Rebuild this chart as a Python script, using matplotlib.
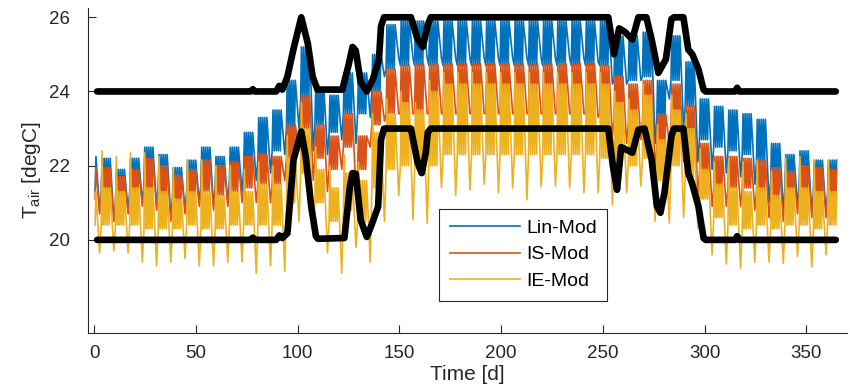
import numpy as np
import matplotlib
matplotlib.use('Agg')
import matplotlib.pyplot as plt

plt.rcParams['font.family'] = ['Liberation Sans', 'DejaVu Sans']
plt.rcParams['mathtext.fontset'] = 'custom'
plt.rcParams['mathtext.rm'] = 'Liberation Sans'

#========= weekly values (one entry per week, week i starts at day 7*i + FIRST_DIP)
FIRST_DIP = -4.3

# Lin-Mod
lin_hi = [22.25, 22.2, 21.9, 22.2, 22.5, 22.3, 21.95, 22.15, 22.5, 22.25,
          22.5, 22.9, 23.3, 23.5, 24.3, 25.2, 24.1, 23.9, 24.5, 24.5,
          25.0, 25.8, 25.9, 25.9, 25.9, 25.9, 25.9, 25.9, 25.9, 25.9,
          25.9, 25.9, 25.9, 25.9, 25.9, 25.9, 25.9, 25.5, 25.5, 25.6,
          24.3, 25.5, 24.8, 23.8, 23.6, 23.5, 23.4, 23.25, 22.6, 22.3,
          22.4, 22.15, 22.15]
lin_night = [21.3, 21.3, 21.0, 21.3, 21.5, 21.4, 21.1, 21.3, 21.5, 21.4,
             21.6, 21.9, 22.2, 22.4, 23.0, 23.8, 23.1, 22.9, 23.4, 23.4,
             24.0, 24.6, 24.7, 24.7, 24.7, 24.7, 24.7, 24.7, 24.7, 24.7,
             24.7, 24.7, 24.7, 24.7, 24.7, 24.7, 24.7, 24.3, 24.3, 24.4,
             23.2, 24.3, 23.6, 22.7, 22.5, 22.4, 22.3, 22.1, 21.6, 21.4,
             21.5, 21.3, 21.3]
lin_lo = [20.8, 20.8, 20.5, 20.8, 21.0, 20.9, 20.6, 20.8, 21.0, 20.9,
          21.0, 21.3, 21.6, 21.8, 22.3, 23.0, 22.4, 22.3, 22.7, 22.6,
          23.3, 24.4, 24.9, 24.9, 24.9, 24.9, 24.9, 24.9, 24.9, 24.9,
          24.9, 24.9, 24.9, 24.9, 24.9, 24.9, 24.8, 24.2, 24.2, 24.3,
          22.6, 23.8, 23.0, 22.1, 21.9, 21.8, 21.7, 21.5, 21.0, 20.8,
          20.9, 20.7, 20.7]

# IS-Mod
is_hi = [21.95, 21.95, 21.7, 21.9, 22.2, 22.0, 21.75, 21.9, 22.15, 22.0,
         22.1, 22.25, 22.3, 22.25, 23.1, 23.9, 23.1, 22.8, 23.4, 22.8,
         24.0, 24.6, 24.7, 24.75, 24.75, 24.75, 24.75, 24.75, 24.75, 24.75,
         24.75, 24.75, 24.75, 24.75, 24.75, 24.75, 24.7, 24.4, 24.2, 24.3,
         23.4, 24.2, 23.6, 22.6, 22.25, 22.25, 22.2, 22.15, 21.95, 21.85,
         22.0, 21.95, 21.9]
is_night = [21.1, 21.1, 20.9, 21.1, 21.3, 21.2, 20.9, 21.1, 21.3, 21.2,
            21.3, 21.4, 21.5, 21.5, 22.2, 23.0, 22.2, 21.9, 22.5, 21.9,
            23.1, 23.4, 23.4, 23.4, 23.4, 23.4, 23.4, 23.4, 23.4, 23.4,
            23.4, 23.4, 23.4, 23.4, 23.4, 23.4, 23.4, 23.2, 23.1, 23.2,
            22.5, 23.1, 22.7, 21.8, 21.4, 21.4, 21.4, 21.3, 21.1, 21.0,
            21.2, 21.1, 21.1]
is_lo = [20.7, 20.7, 20.5, 20.7, 20.9, 20.8, 20.5, 20.7, 20.9, 20.8,
         20.9, 21.0, 21.0, 21.0, 21.6, 22.4, 21.6, 21.3, 21.9, 21.3,
         22.5, 23.2, 23.4, 23.4, 23.4, 23.4, 23.4, 23.4, 23.4, 23.4,
         23.4, 23.4, 23.4, 23.4, 23.4, 23.4, 23.3, 22.8, 22.6, 22.7,
         21.9, 22.6, 22.1, 21.2, 20.9, 20.9, 20.9, 20.8, 20.6, 20.5,
         20.7, 20.6, 20.6]

# IE-Mod
ie_hi = [21.8, 22.4, 22.25, 22.35, 22.35, 22.25, 21.95, 22.15, 22.15, 22.0,
         22.0, 21.9, 22.1, 22.0, 22.8, 23.7, 22.5, 22.0, 22.3, 22.1,
         23.4, 23.8, 24.0, 23.7, 24.3, 24.5, 24.5, 24.5, 24.5, 24.5,
         24.5, 24.5, 24.5, 24.5, 24.5, 24.5, 24.5, 24.0, 23.8, 24.2,
         23.1, 23.9, 23.4, 22.45, 22.1, 22.2, 22.1, 22.15, 21.85, 22.2,
         22.25, 22.15, 22.15]
ie_day = [21.3, 21.4, 21.3, 21.4, 21.4, 21.3, 21.1, 21.3, 21.3, 21.2,
          21.3, 21.3, 21.5, 21.5, 22.2, 23.0, 21.9, 21.4, 21.8, 21.6,
          22.9, 23.4, 23.7, 23.5, 24.0, 24.2, 24.2, 24.2, 24.2, 24.2,
          24.2, 24.2, 24.2, 24.2, 24.2, 24.2, 24.2, 23.7, 23.5, 23.9,
          22.7, 23.5, 23.0, 21.9, 21.5, 21.4, 21.3, 21.4, 21.2, 21.4,
          21.4, 21.3, 21.3]
ie_night = [20.4, 20.4, 20.4, 20.4, 20.3, 20.3, 20.3, 20.4, 20.3, 20.3,
            20.4, 20.4, 20.4, 20.4, 21.0, 21.8, 21.0, 20.5, 20.8, 20.5,
            21.4, 21.9, 22.0, 21.9, 22.0, 22.3, 22.3, 22.3, 22.3, 22.3,
            22.3, 22.3, 22.3, 22.3, 22.3, 22.3, 22.2, 22.0, 22.0, 22.2,
            21.6, 22.0, 21.7, 21.1, 20.6, 20.4, 20.3, 20.4, 20.3, 20.4,
            20.4, 20.3, 20.4]
ie_lo = [19.6, 19.65, 19.7, 19.65, 19.4, 19.3, 19.4, 19.5, 19.3, 19.3,
         19.4, 19.4, 19.1, 19.3, 19.15, 20.5, 20.2, 19.65, 19.1, 19.8,
         19.4, 20.5, 21.2, 20.55, 20.45, 21.4, 21.2, 21.35, 21.5, 21.27,
         21.4, 21.08, 21.43, 21.45, 21.4, 21.27, 21.27, 20.95, 21.27, 21.45,
         20.5, 20.45, 20.6, 20.3, 19.6, 19.35, 19.24, 19.4, 19.4, 19.37,
         19.55, 19.27, 19.6]

#========= comfort band (black lines)
upper_days = [1.5, 77, 78, 79, 89.5, 91, 92.5, 95, 98, 101.8, 105, 107.4, 109.8, 122,
              125, 127, 128.6, 131, 134, 137, 140, 141, 142.5, 155.7, 159, 161.5, 164,
              165.5, 252.7, 255.5, 258, 261, 264.5, 267.5, 271.4, 274, 277.3, 281,
              283.7, 285, 289.6, 292, 294, 297, 299.5, 300.5, 315, 316, 317, 364.5]
upper_vals = [24.0, 24.0, 24.06, 24.0, 24.0, 24.15, 24.05, 24.4, 25.15, 26.0, 25.3, 24.4, 24.05, 24.05,
              24.7, 25.2, 25.1, 24.25, 24.0, 24.33, 24.87, 25.76, 26.0, 26.0, 25.4, 25.2, 25.8,
              26.0, 26.0, 25.0, 25.7, 25.6, 25.4, 26.0, 26.0, 25.4, 24.5, 24.87,
              25.95, 26.0, 26.0, 25.13, 25.0, 24.6, 24.05, 24.0, 24.0, 24.1, 24.0, 24.0]
lower_days = [1.5, 77, 78, 79, 89.5, 91, 92.5, 95, 98, 101.8, 104, 106.7, 109, 110, 123,
              125.7, 127, 128.6, 131, 134, 136, 139.6, 141, 142.5, 155.7, 159, 161, 163,
              164, 165.5, 252.7, 255, 257, 259, 261.6, 264.5, 267.5, 270.5, 274, 276.6,
              278.3, 280.3, 283.7, 285, 289.6, 292, 294, 297, 299.5, 300.5, 315, 316, 317, 364.5]
lower_vals = [20.0, 20.0, 20.06, 20.0, 20.0, 20.12, 20.05, 20.18, 22.16, 22.92, 22.24, 20.9, 20.1, 20.03, 20.05,
              21.43, 21.8, 21.78, 20.54, 20.08, 20.35, 20.9, 22.7, 23.0, 23.0, 22.08, 21.8, 22.35,
              22.9, 23.0, 23.0, 21.97, 21.35, 22.5, 22.43, 22.35, 22.97, 23.0, 22.16, 20.9,
              20.73, 21.27, 22.8, 23.0, 23.0, 21.8, 21.5, 20.9, 20.05, 20.0, 20.0, 20.1, 20.0, 20.0]

labels = ['Lin-Mod', 'IS-Mod', 'IE-Mod']
colors = ['#0072BD', '#D95319', '#EDB120']

# one week: weekend dip, then five working days (night low / day peak)
WEEK = [(0.0, 'lo'), (0.8, 'night'), (1.2, 'hi'), (1.8, 'night'), (2.2, 'day'),
        (2.8, 'night'), (3.2, 'day'), (3.8, 'night'), (4.2, 'day'),
        (4.8, 'night'), (5.2, 'day')]


def weekly_trace(hi, day, night, lo):
    t, v = [], []
    for i in range(len(hi)):
        d0 = FIRST_DIP + 7 * i
        vals = {'hi': hi[i], 'day': day[i], 'night': night[i], 'lo': lo[i]}
        for off, key in WEEK:
            t.append(d0 + off)
            v.append(vals[key])
    t = np.array(t)
    v = np.array(v)
    keep = (t >= 0) & (t <= 365)
    return t[keep], v[keep]


series = [weekly_trace(lin_hi, lin_hi, lin_night, lin_lo),
          weekly_trace(is_hi, is_hi, is_night, is_lo),
          weekly_trace(ie_hi, ie_day, ie_night, ie_lo)]

fig = plt.figure(figsize=(8.5, 3.85), dpi=100)
ax = fig.add_axes([88 / 850, 52 / 385, 759 / 850, 325 / 385])

for (t, v), lab, c in zip(series, labels, colors):
    ax.plot(t, v, color=c, lw=1.2, label=lab)

ax.plot(upper_days, upper_vals, color='black', lw=4.8, solid_capstyle='round', solid_joinstyle='round')
ax.plot(lower_days, lower_vals, color='black', lw=4.8, solid_capstyle='round', solid_joinstyle='round')

ax.set_xlim(-3, 370)
ax.set_ylim(17.49, 26.25)
ax.set_xticks(range(0, 351, 50))
ax.set_yticks([20, 22, 24, 26])

dark = '#262626'
for s in ['top', 'right']:
    ax.spines[s].set_visible(False)
for s in ['left', 'bottom']:
    ax.spines[s].set_color(dark)
    ax.spines[s].set_linewidth(0.8)
ax.tick_params(axis='both', direction='in', length=5.5, width=0.8, colors=dark, labelsize=13.5)
ax.tick_params(axis='y', pad=13)
ax.tick_params(axis='x', pad=9)

ax.set_xlabel('Time [d]', fontsize=15, color=dark, labelpad=2)
ax.set_ylabel(r'T$_{\mathregular{air}}$ [degC]', fontsize=15, color=dark, labelpad=4)

leg = ax.legend(loc='lower left', bbox_to_anchor=(0.463, 0.1), fontsize=14, frameon=True,
                fancybox=False, framealpha=1, edgecolor=dark, handlelength=3.6,
                handletextpad=0.3, labelspacing=0.45, borderpad=0.55, borderaxespad=0)
leg.get_frame().set_linewidth(0.8)
for line in leg.get_lines():
    line.set_linewidth(1.2)

fig.savefig('out.png', dpi=100)
